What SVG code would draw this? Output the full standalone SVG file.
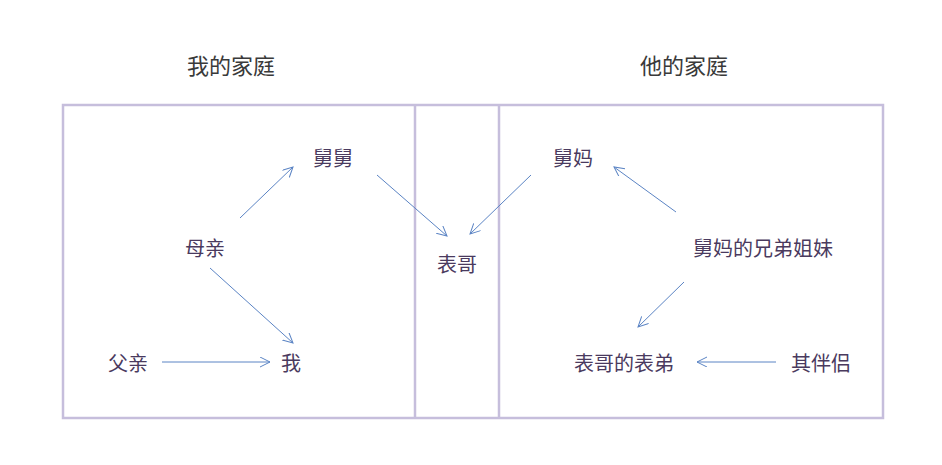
<svg xmlns="http://www.w3.org/2000/svg" width="942" height="465" viewBox="0 0 942 465">
<style>
.t{font-family:"Noto Sans CJK SC","Noto Sans",sans-serif;font-size:20px;fill:#4a3a5e;text-anchor:middle;dominant-baseline:central}
.h{font-size:22px;fill:#3a3a3a}
.b{fill:none;stroke:#c6bedc;stroke-width:2.5}
.c line{stroke:#5b84c4;stroke-width:1;marker-end:url(#a)}
</style>
<defs><marker id="a" markerWidth="12" markerHeight="12" refX="10" refY="5" orient="auto" markerUnits="userSpaceOnUse"><path d="M0,0 L10,5 L0,10" fill="none" stroke="#5b84c4" stroke-width="1"/></marker></defs>
<rect width="942" height="465" fill="#fff"/>
<text class="t h" x="231" y="64">我的家庭</text>
<text class="t h" x="684" y="64">他的家庭</text>
<rect class="b" x="63" y="105" width="820" height="313"/>
<line class="b" x1="415" y1="105" x2="415" y2="418"/>
<line class="b" x1="499" y1="105" x2="499" y2="418"/>
<g class="c">
<line x1="240" y1="218" x2="293" y2="167"/>
<line x1="210" y1="268" x2="293" y2="343"/>
<line x1="162" y1="362" x2="270" y2="362"/>
<line x1="377" y1="175" x2="447" y2="236"/>
<line x1="531" y1="175" x2="470" y2="234"/>
<line x1="676" y1="212" x2="614" y2="167"/>
<line x1="684" y1="282" x2="638" y2="327"/>
<line x1="776" y1="362" x2="697" y2="362"/>
</g>
<g id="n1"><text class="t" x="333" y="157">舅舅</text></g>
<g id="n2"><text class="t" x="205" y="247">母亲</text></g>
<g id="n3"><text class="t" x="128" y="362">父亲</text></g>
<g id="n4"><text class="t" x="291" y="362">我</text></g>
<g id="n5"><text class="t" x="457" y="263">表哥</text></g>
<g id="n6"><text class="t" x="573" y="157">舅妈</text></g>
<g id="n7"><text class="t" x="763" y="247">舅妈的兄弟姐妹</text></g>
<g id="n8"><text class="t" x="624" y="362">表哥的表弟</text></g>
<g id="n9"><text class="t" x="821" y="362">其伴侣</text></g>
</svg>
